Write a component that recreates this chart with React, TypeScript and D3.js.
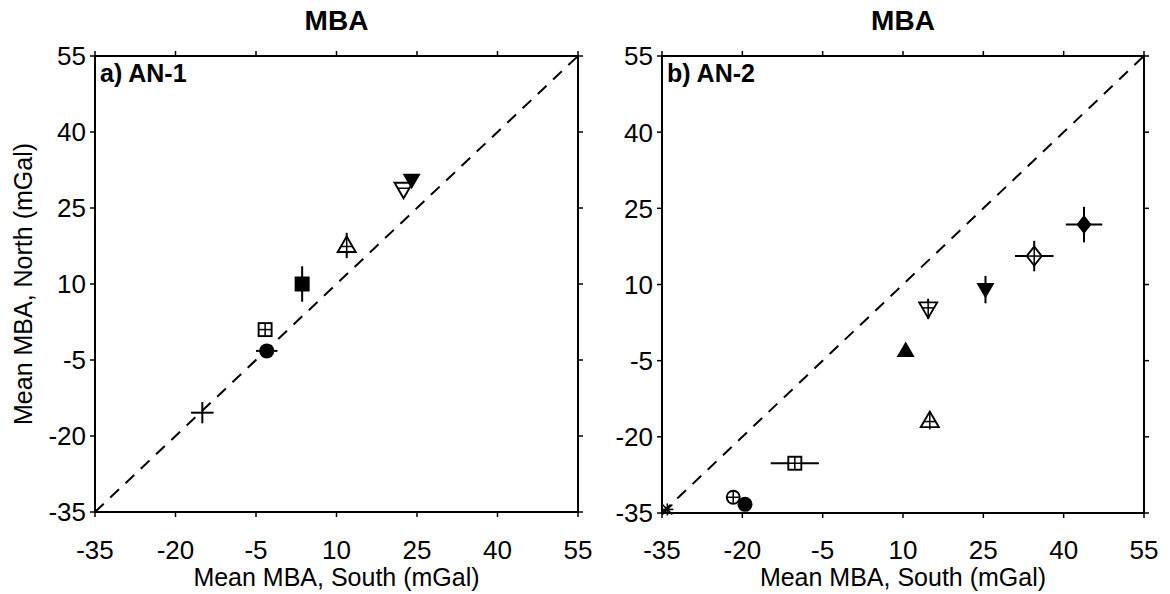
import React from "react";
import * as d3 from "d3";

// ---- Data ----
const ticks = [-35, -20, -5, 10, 25, 40, 55];

// Panel a) AN-1
const aSouth = [-15.0, -3.0, -3.3, 3.6, 11.9, 22.5, 24.0];
const aNorth = [-15.4, -3.2, 1.0, 10.0, 17.6, 28.7, 30.5];
const aXerr = [2.1, 2.0, 0, 0, 0, 0, 0];
const aYerr = [2.1, 0, 0, 3.5, 2.5, 0, 0];
const aMarker = ["plus", "circleFilled", "squareOpenPlus", "squareFilled", "triUpOpenPlus", "triDownOpen", "triDownFilled"];

// Panel b) AN-2
const bSouth = [-34.0, -21.7, -19.5, -10.2, 10.5, 15.0, 14.7, 25.4, 34.5, 43.8];
const bNorth = [-34.3, -31.9, -33.3, -25.2, -3.0, -16.8, 5.2, 9.0, 15.6, 21.8];
const bXerr = [0, 0, 1.2, 4.5, 0, 0, 0, 0, 3.6, 3.4];
const bYerr = [0, 0, 0, 0, 0, 0, 2.0, 2.7, 3.0, 3.5];
const bMarker = ["asterisk", "circleOpenPlus", "circleFilled", "squareOpenPlus", "triUpFilled", "triUpOpenPlus", "triDownOpenPlus", "triDownFilled", "diamondOpenPlus", "diamondFilled"];

const FONT = "'Liberation Sans', Arial, Helvetica, sans-serif";

function Marker({ type, cx, cy }: { type: string; cx: number; cy: number }) {
  const sw = 1.9;
  const plusIn = (h: number, v: number, dy = 0) => (
    <g stroke="#000" strokeWidth={1.5}>
      <line x1={cx - h} x2={cx + h} y1={cy + dy} y2={cy + dy} />
      <line x1={cx} x2={cx} y1={cy - v} y2={cy + v} />
    </g>
  );
  switch (type) {
    case "plus":
      return null;
    case "asterisk":
      return (
        <g stroke="#000" strokeWidth={1.6}>
          <line x1={cx - 6} x2={cx + 6} y1={cy} y2={cy} />
          <line x1={cx} x2={cx} y1={cy - 6} y2={cy + 6} />
          <line x1={cx - 5} x2={cx + 5} y1={cy - 5} y2={cy + 5} />
          <line x1={cx - 5} x2={cx + 5} y1={cy + 5} y2={cy - 5} />
        </g>
      );
    case "circleFilled":
      return <circle cx={cx} cy={cy} r={7.5} fill="#000" />;
    case "circleOpenPlus":
      return (
        <g>
          <circle cx={cx} cy={cy} r={6.5} fill="#fff" stroke="#000" strokeWidth={sw} />
          {plusIn(6.5, 6.5)}
        </g>
      );
    case "squareFilled":
      return <rect x={cx - 7.5} y={cy - 7.5} width={15} height={15} fill="#000" />;
    case "squareOpenPlus":
      return (
        <g>
          <rect x={cx - 6.5} y={cy - 6.5} width={13} height={13} fill="#fff" stroke="#000" strokeWidth={sw} />
          {plusIn(6.5, 6.5)}
        </g>
      );
    case "triUpFilled":
    case "triUpOpenPlus": {
      const p = `M${cx},${cy - 9}L${cx + 9},${cy + 6.5}L${cx - 9},${cy + 6.5}Z`;
      if (type === "triUpFilled") return <path d={p} fill="#000" />;
      return (
        <g>
          <path d={p} fill="#fff" stroke="#000" strokeWidth={sw} />
          {plusIn(5.5, 9, 1)}
        </g>
      );
    }
    case "triDownFilled":
    case "triDownOpen":
    case "triDownOpenPlus": {
      const p = `M${cx},${cy + 9}L${cx + 9},${cy - 6.5}L${cx - 9},${cy - 6.5}Z`;
      if (type === "triDownFilled") return <path d={p} fill="#000" />;
      return (
        <g>
          <path d={p} fill="#fff" stroke="#000" strokeWidth={sw} />
          {type === "triDownOpenPlus" ? plusIn(5.5, 9, -1) : <line x1={cx - 5.5} x2={cx + 5.5} y1={cy - 1} y2={cy - 1} stroke="#000" strokeWidth={1.5} />}
        </g>
      );
    }
    case "diamondFilled":
    case "diamondOpenPlus": {
      const p = `M${cx},${cy - 9.5}L${cx + 7.5},${cy}L${cx},${cy + 9.5}L${cx - 7.5},${cy}Z`;
      if (type === "diamondFilled") return <path d={p} fill="#000" />;
      return (
        <g>
          <path d={p} fill="#fff" stroke="#000" strokeWidth={sw} />
          {plusIn(7.5, 9.5)}
        </g>
      );
    }
    default:
      return null;
  }
}

function Panel({
  x0, x1, y0, y1, label, south, north, xerr, yerr, markers, showYLabel,
}: {
  x0: number; x1: number; y0: number; y1: number; label: string;
  south: number[]; north: number[]; xerr: number[]; yerr: number[]; markers: string[]; showYLabel: boolean;
}) {
  const x = d3.scaleLinear().domain([-35, 55]).range([x0, x1]);
  const y = d3.scaleLinear().domain([-35, 55]).range([y1, y0]);
  const cxm = (x0 + x1) / 2;
  return (
    <g fontFamily={FONT}>
      <text x={cxm} y={30} textAnchor="middle" fontSize={28} fontWeight="bold">MBA</text>
      {/* 1:1 line */}
      <line x1={x(-35)} y1={y(-35)} x2={x(55)} y2={y(55)} stroke="#000" strokeWidth={2} strokeDasharray="12,9" />
      {/* error bars */}
      {south.map((s, i) => (
        <g key={"e" + i} stroke="#000" strokeWidth={2}>
          {xerr[i] > 0 && <line x1={x(s - xerr[i])} x2={x(s + xerr[i])} y1={y(north[i])} y2={y(north[i])} />}
          {yerr[i] > 0 && <line x1={x(s)} x2={x(s)} y1={y(north[i] - yerr[i])} y2={y(north[i] + yerr[i])} />}
        </g>
      ))}
      {south.map((s, i) => (
        <Marker key={"m" + i} type={markers[i]} cx={x(s)} cy={y(north[i])} />
      ))}
      {/* frame */}
      <rect x={x0} y={y0} width={x1 - x0} height={y1 - y0} fill="none" stroke="#000" strokeWidth={2} />
      {ticks.map((t) => (
        <g key={"t" + t} stroke="#000" strokeWidth={1.5}>
          <line x1={x(t)} x2={x(t)} y1={y1} y2={y1 + 5} />
          <line x1={x(t)} x2={x(t)} y1={y0} y2={y0 - 5} />
          <line x1={x0} x2={x0 - 5} y1={y(t)} y2={y(t)} />
          <line x1={x1} x2={x1 + 5} y1={y(t)} y2={y(t)} />
        </g>
      ))}
      {ticks.map((t) => (
        <text key={"xl" + t} x={x(t)} y={559} textAnchor="middle" fontSize={26}>{t}</text>
      ))}
      {ticks.map((t) => (
        <text key={"yl" + t} x={x0 - 9} y={y(t)} dy="0.36em" textAnchor="end" fontSize={26}>{t}</text>
      ))}
      <text x={x0 + 5} y={y0 + 26} fontSize={25} fontWeight="bold">{label}</text>
      <text x={cxm} y={586} textAnchor="middle" fontSize={25}>Mean MBA, South (mGal)</text>
      {showYLabel && (
        <text transform={`translate(32,${(y0 + y1) / 2}) rotate(-90)`} textAnchor="middle" fontSize={25}>
          Mean MBA, North (mGal)
        </text>
      )}
    </g>
  );
}

export default function App() {
  return (
    <svg width={1170} height={594} style={{ position: "absolute", left: 0, top: 0, background: "#fff" }}>
      <rect width={1170} height={594} fill="#fff" />
      <Panel x0={95} x1={578} y0={56} y1={512} label="a) AN-1" south={aSouth} north={aNorth} xerr={aXerr} yerr={aYerr} markers={aMarker} showYLabel={true} />
      <Panel x0={662} x1={1144} y0={56} y1={513} label="b) AN-2" south={bSouth} north={bNorth} xerr={bXerr} yerr={bYerr} markers={bMarker} showYLabel={false} />
    </svg>
  );
}
